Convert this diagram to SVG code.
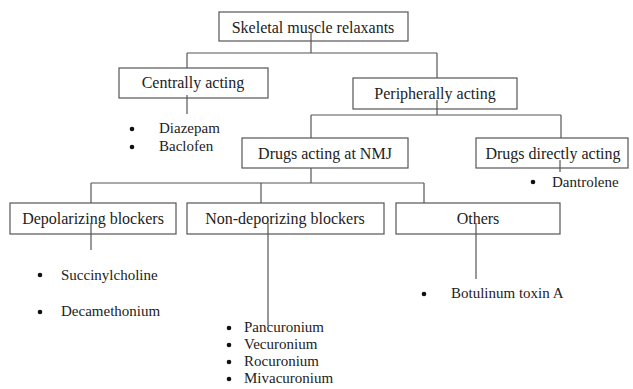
<svg xmlns="http://www.w3.org/2000/svg" width="633" height="389" viewBox="0 0 633 389">
<style>
.box{fill:#fff;stroke:#555;stroke-width:1.2}
.lbl{font-family:"Liberation Serif","Times New Roman",serif;font-size:16px;fill:#222;text-anchor:middle}
.item{font-family:"Liberation Serif","Times New Roman",serif;font-size:15px;fill:#222}
.dot{fill:#111}
.conn line{stroke:#555;stroke-width:1.2}
</style>
<rect width="633" height="389" fill="#fff"/>
<g id="root"><rect class="box" x="219" y="12" width="189" height="29"/><text class="lbl" x="313" y="33">Skeletal muscle relaxants</text></g>
<g id="central"><rect class="box" x="119" y="68" width="149" height="30"/><text class="lbl" x="193" y="88">Centrally acting</text></g>
<g id="peripheral"><rect class="box" x="353" y="78" width="164" height="31"/><text class="lbl" x="435" y="99">Peripherally acting</text></g>
<g id="nmj"><rect class="box" x="242" y="138" width="166" height="30"/><text class="lbl" x="325" y="159">Drugs acting at NMJ</text></g>
<g id="direct"><rect class="box" x="476" y="138" width="152" height="30"/><text class="lbl" x="553" y="159">Drugs directly acting</text></g>
<g id="depol"><rect class="box" x="10" y="203" width="166" height="31"/><text class="lbl" x="93" y="224">Depolarizing blockers</text></g>
<g id="nondepol"><rect class="box" x="187" y="203" width="197" height="31"/><text class="lbl" x="285" y="224">Non-deporizing blockers</text></g>
<g id="others"><rect class="box" x="396" y="203" width="164" height="31"/><text class="lbl" x="478" y="224">Others</text></g>
<g class="conn" id="connectors">
<line x1="311" y1="32" x2="311" y2="53"/>
<line x1="187" y1="53" x2="437" y2="53"/>
<line x1="187" y1="53" x2="187" y2="68"/>
<line x1="437" y1="53" x2="437" y2="78"/>
<line x1="187" y1="95" x2="187" y2="114"/>
<line x1="437" y1="100" x2="437" y2="115"/>
<line x1="311" y1="115" x2="561" y2="115"/>
<line x1="311" y1="115" x2="311" y2="138"/>
<line x1="561" y1="115" x2="561" y2="138"/>
<line x1="560" y1="160" x2="560" y2="172"/>
<line x1="311" y1="168" x2="311" y2="183"/>
<line x1="91" y1="183" x2="424" y2="183"/>
<line x1="91" y1="183" x2="91" y2="203"/>
<line x1="261" y1="183" x2="261" y2="203"/>
<line x1="424" y1="183" x2="424" y2="203"/>
<line x1="91" y1="223" x2="91" y2="250"/>
<line x1="268" y1="223" x2="268" y2="326"/>
<line x1="476" y1="223" x2="476" y2="279"/>
</g>
<g id="central-items">
<circle class="dot" cx="132" cy="129" r="2.3"/><text class="item" x="159" y="133">Diazepam</text>
<circle class="dot" cx="132" cy="147" r="2.3"/><text class="item" x="159" y="151">Baclofen</text>
</g>
<g id="direct-items">
<circle class="dot" cx="533" cy="182" r="2.3"/><text class="item" x="552" y="187">Dantrolene</text>
</g>
<g id="depol-items">
<circle class="dot" cx="40" cy="275" r="2.3"/><text class="item" x="61" y="280">Succinylcholine</text>
<circle class="dot" cx="40" cy="312" r="2.3"/><text class="item" x="61" y="316">Decamethonium</text>
</g>
<g id="nondepol-items">
<circle class="dot" cx="229" cy="328" r="2.3"/><text class="item" x="244" y="332">Pancuronium</text>
<circle class="dot" cx="229" cy="345" r="2.3"/><text class="item" x="244" y="349">Vecuronium</text>
<circle class="dot" cx="229" cy="362" r="2.3"/><text class="item" x="244" y="366">Rocuronium</text>
<circle class="dot" cx="229" cy="379" r="2.3"/><text class="item" x="244" y="383">Mivacuronium</text>
</g>
<g id="others-items">
<circle class="dot" cx="424" cy="294" r="2.3"/><text class="item" x="451" y="298">Botulinum toxin A</text>
</g>
</svg>
